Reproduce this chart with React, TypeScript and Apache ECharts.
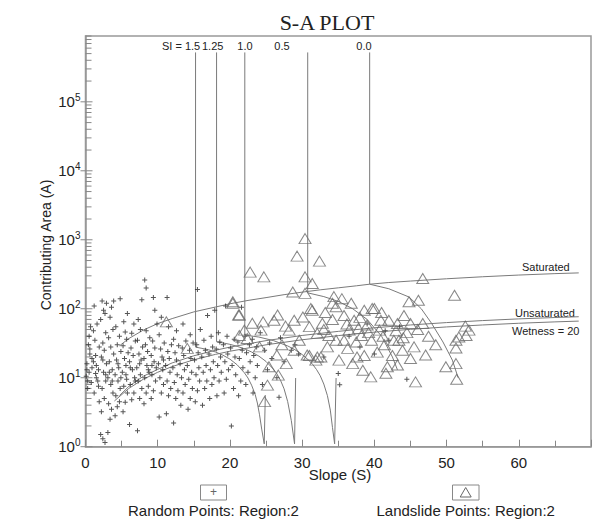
import React, { useEffect, useRef } from 'react';
import * as echarts from 'echarts';

const FONT = '"Liberation Sans", Arial, sans-serif';
const SERIF = '"Liberation Serif", "Times New Roman", serif';

const xTickLabels = ['0', '10', '20', '30', '40', '50', '60'];
const yMajorTicks = [1, 10, 100, 1000, 10000, 100000];
const yMinorMultipliers = [2, 3, 4, 5, 6, 7, 8, 9];

const saturatedLine = [[4.7,29],[6,37],[8,49],[10,61],[12,72],[15,90],[18,106],[20,118],[22.5,132],[25,145],[27.5,160],[30,174],[32.5,188],[35,201],[37.5,215],[39.35,227],[42,240],[45,252],[50,272],[55,291],[60,308],[65,323],[68.3,331]];
const unsaturatedLine = [[4.7,5.5],[6,7.5],[8,10.5],[10,13.2],[12,16.4],[15,20.8],[18,25],[20,27.8],[25,34.5],[30,41],[35,47],[40,53],[45,58.2],[50,63],[55,67.4],[60,71.3],[65,74.6],[68.3,76.6]];
const wetnessLine = [[4.0,4.6],[6,7.0],[8,9.5],[10,12],[12,14.5],[15,18.2],[18,21.8],[20,24.2],[25,30],[30,35.5],[35,40.8],[40,45.8],[45,50.3],[50,54.5],[55,58.2],[60,61.6],[65,64.5],[68.3,66.2]];

const si15Line = [[15.24,520000],[15.24,27.8],[16,26.8],[17,25.5],[18,23.6],[19,21.3],[20,18.6],[21,15.4],[22,11.8],[22.5,9.9],[23,7.8],[23.5,5.7],[23.8,4.3],[24.1,2.9],[24.4,1.8],[24.75,1.1],[24.9,5.6]];
const si125Line = [[18.15,520000],[18.15,33.2],[19,32],[20,30.5],[21,28.5],[22,26.3],[23,23.6],[24,20.6],[25,17.2],[26,13.4],[26.5,11.4],[27,9.2],[27.5,6.9],[28,4.5],[28.5,2.4],[28.95,1.1],[29.1,9.9]];
const si10Line = [[22.06,520000],[22.06,41.5],[24,38.9],[26,34.6],[28,28.9],[29,25.5],[30,21.7],[31,17.6],[31.5,15.4],[32,13.1],[32.5,10.7],[33,8.1],[33.5,5.5],[33.9,3.4],[34.2,1.9],[34.5,1.1],[34.7,9.9]];
const si05Line = [[30.77,520000],[30.77,170],[33,150],[35,128],[37,100],[39,70],[41,40],[42.5,20],[43.2,13]];
const si00Line = [[39.35,520000],[39.35,227],[42,195],[44.8,148],[46.5,100],[47.9,62],[49.5,33],[50.8,18],[51.6,10]];

const randomPoints = [
  [0.3,9],[0.5,12],[0.2,16],[0.8,8.5],[0.6,22],[0.4,30],[0.9,14],[0.7,55],[0.3,7],[0.1,10.5],[0.9,19],[0.5,40],[0.6,26],[0.2,13],
  [1.2,6],[1.5,10],[1.8,13],[1.1,17],[1.4,21],[1.7,9],[1.9,28],[1.3,35],[1.6,60],[1.2,110],[1.8,7.5],[1.5,15],[1.1,48],[1.9,4.5],[1.4,11.5],
  [2.1,1.5],[2.4,1.3],[2.7,1.15],[2.2,3.2],[2.6,5],[2.3,7],[2.8,9],[2.5,12],[2.9,16],[2.2,20],[2.6,25],[2.4,32],[2.8,45],[2.1,70],[2.5,95],[2.9,120],[2.3,130],[2.7,85],[2.4,18],[2.8,11],
  [3.1,1.6],[3.4,2.5],[3.6,3.5],[3.2,4.2],[3.8,6],[3.5,8],[3.1,10],[3.7,13],[3.3,17],[3.9,22],[3.5,28],[3.2,38],[3.8,50],[3.4,75],[3.6,105],[3.9,130],[3.3,12],[3.7,9],
  [4.1,2.8],[4.4,3.8],[4.7,4.5],[4.2,5.5],[4.8,7],[4.5,9],[4.1,11],[4.6,14],[4.3,18],[4.9,24],[4.4,30],[4.7,40],[4.2,55],[4.8,140],[4.5,16],[4.9,10],
  [5.2,3.2],[5.5,4.4],[5.8,6],[5.3,7.5],[5.7,9.5],[5.1,12],[5.6,15],[5.4,19],[5.9,23],[5.2,29],[5.7,36],[5.5,46],[5.3,65],[5.8,85],[5.6,11],
  [6.1,2.1],[6.4,4.8],[6.7,6],[6.2,8],[6.8,10],[6.5,13],[6.1,17],[6.6,21],[6.3,27],[6.9,34],[6.4,44],[6.7,60],[6.2,14],[6.9,9],
  [7.2,1.7],[7.5,5],[7.8,7],[7.3,9],[7.6,11],[7.1,14],[7.7,18],[7.4,22],[7.9,28],[7.2,35],[7.6,50],[7.3,70],[7.8,135],[7.5,16],
  [8.1,4.2],[8.4,6],[8.7,7.5],[8.2,10],[8.8,12],[8.5,15],[8.1,19],[8.6,24],[8.3,30],[8.9,38],[8.4,48],[8.2,260],[8.4,200],[8.7,13],
  [9.1,5],[9.4,6.5],[9.7,9],[9.2,11],[9.8,14],[9.5,17],[9.1,21],[9.6,27],[9.3,34],[9.9,60],[9.4,145],[9.6,95],[9.2,15],
  [10.2,2.7],[10.5,6],[10.8,8],[10.3,10],[10.7,13],[10.1,16],[10.6,20],[10.4,26],[10.9,32],[10.2,42],[10.5,75],[10.8,18],
  [11.2,3],[11.5,5.5],[11.8,7],[11.3,9],[11.7,12],[11.1,15],[11.6,19],[11.4,24],[11.9,30],[11.3,145],[11.5,55],
  [12.2,2.2],[12.5,5],[12.8,6.5],[12.3,8.5],[12.7,11],[12.1,14],[12.6,18],[12.4,23],[12.9,29],[12.2,36],[12.6,48],
  [13.2,4],[13.5,6],[13.8,8],[13.3,10],[13.7,13],[13.1,16],[13.6,21],[13.4,27],[13.9,34],[13.5,60],
  [14.2,3.5],[14.5,5],[14.8,7],[14.3,9.5],[14.7,12],[14.1,15],[14.6,19],[14.4,25],[14.9,32],[14.5,42],
  [15.2,4.5],[15.5,6.5],[15.8,9],[15.3,11],[15.7,14],[15.1,18],[15.6,23],[15.4,30],[15.9,50],[15.5,190],
  [16.2,4],[16.5,7],[16.8,9],[16.3,12],[16.7,15],[16.1,20],[16.6,25],[16.4,35],[16.9,80],
  [17.2,5],[17.5,8],[17.8,10],[17.3,13],[17.7,17],[17.1,22],[17.6,28],[17.4,40],[17.9,95],
  [18.2,5.5],[18.5,9],[18.8,12],[18.3,15],[18.7,20],[18.1,26],[18.6,33],[18.4,45],
  [19.2,6],[19.5,9.5],[19.8,13],[19.3,17],[19.7,22],[19.1,30],[19.6,40],[19.4,110],
  [20.2,2],[20.5,7],[20.8,11],[20.3,15],[20.7,20],[20.1,27],[20.6,36],
  [21.2,5.5],[21.5,9],[21.8,14],[21.3,19],[21.7,25],[21.1,33],[21.6,105],
  [22.2,8],[22.5,12],[22.8,17],[22.3,23],[22.7,30],[22.1,40],
  [23.2,6],[23.5,10],[23.8,15],[23.3,21],[23.7,28],[23.1,36],
  [24.5,8],[25.2,13],[25.8,19],[24.8,25],[25.5,32],[24.2,45],
  [26.5,10],[27.5,17],[28.5,25],[27,38],[29,30],[26.8,5.2],[29.5,22],
  [33,20],[35,11.5],[35.2,7.9],[36.5,40],[38,28],[39,60],[40,22],[41.5,48],[43.5,55],[44.5,9.5],[42,35]
];

const landslidePoints = [
  [30.4,1040],[29.3,580],[32.4,490],[22.8,340],[24.7,290],[30.4,290],[31.4,232],[28.7,175],[30.4,167],[20.4,126],
  [34.4,150],[31.2,101],[21.3,81],[46.7,275],[51.1,157],[44.8,126],[46.1,133],[34.7,107],[39.7,101],[38.6,95],[31.4,95],
  [52.7,41],[51.7,39],[51.3,35],[51.3,27],[49.9,14.4],[51.3,16],[51.4,9.5],[45.7,8.7],[47.1,21.3],[45.5,28],[45.0,19],
  [43.2,15.3],[41.6,11.6],[41.8,14.4],[39.5,10.3],[38.4,12.8],[37.0,16],[37.6,20],[36.3,26.6],[43.9,25],[43.4,35],
  [45.0,61],[46.7,61],[43.2,61],[42.0,68],[40.0,101],[31.0,55],[32.1,44],[31.0,21],[31.9,18],[32.6,20],[33.5,28],[34.7,35],
  [35.8,80],[37.2,68],[39,58],[40.7,49],[36.5,49],[38.2,41],[39.6,35],[41.4,30],[42.7,35],[35.8,35],[40.4,23.5],[42.5,21],
  [38.6,21],[35.1,18],[40.9,68],[44.1,80],[52.6,56],[53.1,49],
  [11.2,64.5],[14.1,26.6],[20.4,120],[21.2,81],[23.1,61.5],[24.6,64.5],[26.1,68],[26.6,81],[28.9,68],[30.1,76],
  [21.3,41],[22.4,37],[24.1,28],[25.4,14.4],[26.5,21.3],[27.8,16],[26.7,10.9],[25.2,7.8],[24.8,4.5],[28.9,25],[30.7,21.3],
  [32.1,20],[33.7,41],[32.8,61.5],[34.2,120],[28.2,49],[29.6,35],[27.2,30],[24.3,49],[27.7,56],[22,49],
  [35.5,140],[36.8,120],[33.2,88],[37.5,33],[44.5,45],[47.5,40],[48.5,30],[46,50],
  [36.2,60],[38,75],[41,88],[43,48],[39.2,45],[37.8,52],[34.2,70],[33,50],[41.2,40],[44,38]
];

const SI_LABELS = [
  { text: 'SI = 1.5', x: 162, align: 'left' },
  { text: '1.25', x: 202, align: 'left' },
  { text: '1.0', x: 245, align: 'center' },
  { text: '0.5', x: 282, align: 'center' },
  { text: '0.0', x: 364, align: 'center' },
];

function lineSeries(data: number[][]) {
  return {
    type: 'line',
    data,
    showSymbol: false,
    symbol: 'none',
    silent: true,
    lineStyle: { color: '#7a7a7a', width: 1 },
    z: 2,
  };
}

export default function App() {
  const ref = useRef<HTMLDivElement>(null);
  useEffect(() => {
    if (!ref.current) return;
    const chart = echarts.init(ref.current, undefined, { renderer: 'svg' });
    const tickData: number[][] = [];
    yMajorTicks.forEach((m) => {
      tickData.push([0, m, 1]);
      yMinorMultipliers.forEach((k) => {
        if (m * k <= 900000) tickData.push([0, m * k, 0]);
      });
    });
    const option: any = {
      animation: false,
      backgroundColor: '#fff',
      grid: {
        left: 85.5, top: 36, width: 506, height: 410.7,
        show: true, borderColor: '#999', borderWidth: 1.5, backgroundColor: 'transparent',
      },
      xAxis: {
        type: 'value', min: 0, max: 70, interval: 10,
        axisLine: { lineStyle: { color: '#999', width: 1.5 } },
        axisTick: { show: true, inside: true, length: 7, lineStyle: { color: '#888' } },
        minorTick: { show: true, splitNumber: 2, length: 6, lineStyle: { color: '#888' } },
        splitLine: { show: false },
        axisLabel: {
          margin: 8, fontSize: 15, color: '#222', fontFamily: FONT,
          formatter: (v: number) => { const i = Math.round(v / 10); return i < xTickLabels.length ? xTickLabels[i] : ''; },
        },
      },
      yAxis: {
        type: 'log', logBase: 10, min: 1, max: 900000,
        axisLine: { lineStyle: { color: '#999', width: 1.5 } },
        axisTick: { show: false },
        splitLine: { show: false },
        axisLabel: {
          margin: 5, color: '#222',
          formatter: (v: number) => {
            const e = Math.round(Math.log10(v));
            if (Math.abs(Math.pow(10, e) - v) > 1e-6 * v) return '';
            return '{b|10}{s|' + e + '}';
          },
          rich: {
            b: { fontSize: 15, lineHeight: 18, fontFamily: FONT, color: '#222' },
            s: { fontSize: 10, lineHeight: 11, verticalAlign: 'top', fontFamily: FONT, color: '#222' },
          },
        },
      },
      series: [
        {
          type: 'custom',
          silent: true,
          clip: false,
          data: tickData,
          renderItem: (params: any, api: any) => {
            const v = api.value(1);
            const major = api.value(2) === 1;
            const p = api.coord([0, v]);
            return {
              type: 'line',
              shape: { x1: p[0] - (major ? 5 : 0), y1: p[1], x2: p[0] + (major ? 7 : 6), y2: p[1] },
              style: { stroke: '#888', lineWidth: 1 },
            };
          },
          z: 3,
        },
        lineSeries(saturatedLine),
        lineSeries(unsaturatedLine),
        lineSeries(wetnessLine),
        lineSeries(si15Line),
        lineSeries(si125Line),
        lineSeries(si10Line),
        lineSeries(si05Line),
        lineSeries(si00Line),
        {
          type: 'scatter',
          data: randomPoints,
          symbol: 'path://M2,0H3V2H5V3H3V5H2V3H0V2H2Z',
          symbolSize: 5,
          itemStyle: { color: '#2a2a2a' },
          silent: true,
          z: 4,
        },
        {
          type: 'scatter',
          data: landslidePoints,
          symbol: 'triangle',
          symbolSize: [12, 10],
          itemStyle: { color: 'rgba(0,0,0,0)', borderColor: '#6a6a6a', borderWidth: 1 },
          silent: true,
          z: 5,
        },
      ],
      graphic: [
        { type: 'text', x: 327, y: 22, style: { text: 'S-A PLOT', font: '22px ' + SERIF, fill: '#222', align: 'center', verticalAlign: 'middle' } },
        ...SI_LABELS.map((l) => ({ type: 'text', x: l.x, y: 46, style: { text: l.text, font: '11px ' + FONT, fill: '#222', align: l.align, verticalAlign: 'middle' } })),
        { type: 'text', x: 522, y: 267, style: { text: 'Saturated', font: '11px ' + FONT, fill: '#222', align: 'left', verticalAlign: 'middle' } },
        { type: 'text', x: 515, y: 312.5, style: { text: 'Unsaturated', font: '11px ' + FONT, fill: '#222', align: 'left', verticalAlign: 'middle' } },
        { type: 'text', x: 512, y: 330.5, style: { text: 'Wetness = 20', font: '11px ' + FONT, fill: '#222', align: 'left', verticalAlign: 'middle' } },
        { type: 'text', x: 46, y: 245, rotation: Math.PI / 2, style: { text: 'Contributing Area (A)', font: '14px ' + FONT, fill: '#222', align: 'center', verticalAlign: 'middle' } },
        { type: 'text', x: 340, y: 474, style: { text: 'Slope (S)', font: '15px ' + FONT, fill: '#222', align: 'center', verticalAlign: 'middle' } },
        { type: 'rect', shape: { x: 200.5, y: 485, width: 26, height: 15 }, style: { fill: '#fff', stroke: '#888', lineWidth: 1 } },
        { type: 'text', x: 213.5, y: 492, style: { text: '+', font: '12px ' + FONT, fill: '#666', align: 'center', verticalAlign: 'middle' } },
        { type: 'text', x: 128, y: 510, style: { text: 'Random Points: Region:2', font: '15px ' + FONT, fill: '#222', align: 'left', verticalAlign: 'middle' } },
        { type: 'rect', shape: { x: 452.5, y: 485, width: 26.5, height: 15 }, style: { fill: '#fff', stroke: '#888', lineWidth: 1 } },
        { type: 'polygon', shape: { points: [[465.7, 487.5], [471.2, 497], [460.2, 497]] }, style: { fill: 'none', stroke: '#666', lineWidth: 1 } },
        { type: 'text', x: 376.5, y: 510, style: { text: 'Landslide Points: Region:2', font: '15px ' + FONT, fill: '#222', align: 'left', verticalAlign: 'middle' } },
      ],
    };
    chart.setOption(option);
    return () => chart.dispose();
  }, []);
  return <div ref={ref} style={{ width: 594, height: 520, position: 'absolute', left: 0, top: 0 }} />;
}
